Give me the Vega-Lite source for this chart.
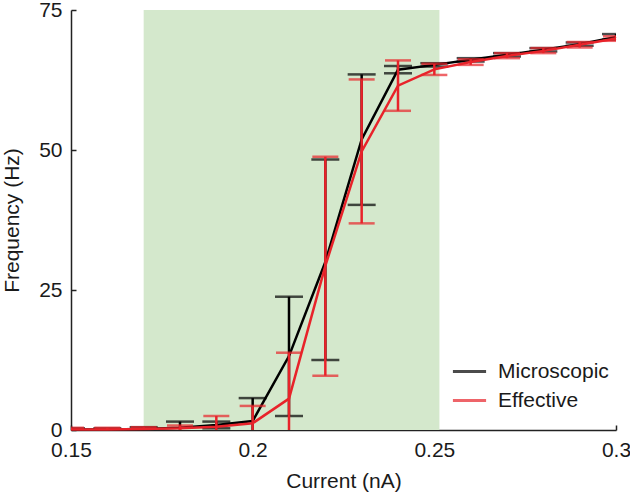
{
  "$schema": "https://vega.github.io/schema/vega-lite/v6.json",
  "width": 545,
  "height": 420,
  "autosize": "none",
  "padding": {"left": 71, "top": 10, "right": 14, "bottom": 72},
  "config": {
    "view": {"stroke": null},
    "font": "Liberation Sans",
    "axis": {
      "grid": false,
      "domainColor": "#222222",
      "domainWidth": 1.5,
      "tickColor": "#222222",
      "tickWidth": 1.5,
      "tickSize": -5,
      "labelFlush": false,
      "labelFontSize": 21,
      "labelColor": "#1a1a1a",
      "titleFontSize": 21,
      "titleFontWeight": "normal",
      "titleColor": "#1a1a1a"
    },
    "legend": {
      "labelFontSize": 21,
      "labelColor": "#1a1a1a",
      "symbolType": "stroke",
      "symbolStrokeWidth": 3,
      "symbolSize": 1100,
      "labelOffset": 10,
      "rowPadding": -7
    }
  },
  "datasets": {
    "band": [{"x0": 0.17, "x1": 0.2514, "y0": 0, "y1": 75}],
    "curves": [
      {"current": 0.15, "rate": 0.1, "lo": -0.1, "hi": 0.3, "model": "Microscopic"},
      {"current": 0.16, "rate": 0.1, "lo": -0.1, "hi": 0.3, "model": "Microscopic"},
      {"current": 0.17, "rate": 0.2, "lo": -0.1, "hi": 0.5, "model": "Microscopic"},
      {"current": 0.18, "rate": 0.4, "lo": -0.7, "hi": 1.5, "model": "Microscopic"},
      {"current": 0.19, "rate": 0.9, "lo": 0.3, "hi": 1.5, "model": "Microscopic"},
      {"current": 0.2, "rate": 1.6, "lo": -2.5, "hi": 5.7, "model": "Microscopic"},
      {"current": 0.21, "rate": 13.2, "lo": 2.5, "hi": 23.8, "model": "Microscopic"},
      {"current": 0.22, "rate": 30.0, "lo": 12.5, "hi": 48.3, "model": "Microscopic"},
      {"current": 0.23, "rate": 51.9, "lo": 40.2, "hi": 63.5, "model": "Microscopic"},
      {"current": 0.24, "rate": 64.35, "lo": 63.7, "hi": 65.0, "model": "Microscopic"},
      {"current": 0.25, "rate": 65.2, "lo": 64.9, "hi": 65.5, "model": "Microscopic"},
      {"current": 0.26, "rate": 66.1, "lo": 65.8, "hi": 66.4, "model": "Microscopic"},
      {"current": 0.27, "rate": 67.0, "lo": 66.7, "hi": 67.3, "model": "Microscopic"},
      {"current": 0.28, "rate": 67.9, "lo": 67.6, "hi": 68.2, "model": "Microscopic"},
      {"current": 0.29, "rate": 68.9, "lo": 68.6, "hi": 69.2, "model": "Microscopic"},
      {"current": 0.3, "rate": 70.2, "lo": 69.7, "hi": 70.7, "model": "Microscopic"},
      {"current": 0.15, "rate": 0.1, "lo": -0.2, "hi": 0.4, "model": "Effective"},
      {"current": 0.16, "rate": 0.1, "lo": -0.2, "hi": 0.4, "model": "Effective"},
      {"current": 0.17, "rate": 0.2, "lo": -0.2, "hi": 0.5, "model": "Effective"},
      {"current": 0.18, "rate": 0.3, "lo": -0.3, "hi": 0.8, "model": "Effective"},
      {"current": 0.19, "rate": 0.6, "lo": -1.3, "hi": 2.5, "model": "Effective"},
      {"current": 0.2, "rate": 1.2, "lo": -1.9, "hi": 4.3, "model": "Effective"},
      {"current": 0.21, "rate": 5.6, "lo": -2.6, "hi": 13.8, "model": "Effective"},
      {"current": 0.22, "rate": 29.3, "lo": 9.7, "hi": 48.8, "model": "Effective"},
      {"current": 0.23, "rate": 49.75, "lo": 36.9, "hi": 62.6, "model": "Effective"},
      {"current": 0.24, "rate": 61.5, "lo": 57.0, "hi": 66.0, "model": "Effective"},
      {"current": 0.25, "rate": 64.4, "lo": 63.4, "hi": 65.4, "model": "Effective"},
      {"current": 0.26, "rate": 65.7, "lo": 65.2, "hi": 66.2, "model": "Effective"},
      {"current": 0.27, "rate": 66.8, "lo": 66.4, "hi": 67.3, "model": "Effective"},
      {"current": 0.28, "rate": 67.7, "lo": 67.3, "hi": 68.2, "model": "Effective"},
      {"current": 0.29, "rate": 68.8, "lo": 68.3, "hi": 69.3, "model": "Effective"},
      {"current": 0.3, "rate": 69.9, "lo": 69.5, "hi": 70.3, "model": "Effective"}
    ]
  },
  "layer": [
    {
      "data": {"name": "band"},
      "mark": {"type": "rect", "color": "#d4e8cc", "clip": true},
      "encoding": {
        "x": {"field": "x0", "type": "quantitative", "scale": {"domain": [0.15, 0.3], "nice": false, "zero": false},
              "axis": {"title": "Current (nA)", "values": [0.15, 0.2, 0.25, 0.3], "format": ".2~f", "labelPadding": 14, "titlePadding": 10}},
        "x2": {"field": "x1"},
        "y": {"field": "y0", "type": "quantitative", "scale": {"domain": [0, 75], "nice": false},
              "axis": {"title": "Frequency (Hz)", "values": [0, 25, 50, 75], "labelPadding": 14, "titlePadding": 16}},
        "y2": {"field": "y1"}
      }
    },
    {
      "data": {"name": "curves"},
      "transform": [{"filter": "datum.model === 'Microscopic'"}],
      "layer": [
        {"mark": {"type": "rule", "strokeWidth": 2.5, "clip": true},
         "encoding": {"x": {"field": "current", "type": "quantitative"}, "y": {"field": "lo", "type": "quantitative"}, "y2": {"field": "hi"},
                      "color": {"field": "model", "type": "nominal"}}},
        {"mark": {"type": "tick", "orient": "horizontal", "size": 28, "thickness": 2.5, "clip": true},
         "encoding": {"x": {"field": "current", "type": "quantitative"}, "y": {"field": "lo", "type": "quantitative"},
                      "color": {"field": "model", "type": "nominal"}}},
        {"mark": {"type": "tick", "orient": "horizontal", "size": 28, "thickness": 2.5, "clip": true},
         "encoding": {"x": {"field": "current", "type": "quantitative"}, "y": {"field": "hi", "type": "quantitative"},
                      "color": {"field": "model", "type": "nominal"}}},
        {"mark": {"type": "line", "strokeWidth": 2.5},
         "encoding": {"x": {"field": "current", "type": "quantitative"}, "y": {"field": "rate", "type": "quantitative"},
                      "color": {"field": "model", "type": "nominal"}}}
      ]
    },
    {
      "data": {"name": "curves"},
      "transform": [{"filter": "datum.model === 'Effective'"}],
      "layer": [
        {"mark": {"type": "rule", "strokeWidth": 2.5, "clip": true},
         "encoding": {"x": {"field": "current", "type": "quantitative"}, "y": {"field": "lo", "type": "quantitative"}, "y2": {"field": "hi"},
                      "color": {"field": "model", "type": "nominal"}}},
        {"mark": {"type": "tick", "orient": "horizontal", "size": 26, "thickness": 2.5, "clip": true},
         "encoding": {"x": {"field": "current", "type": "quantitative"}, "y": {"field": "lo", "type": "quantitative"},
                      "color": {"field": "model", "type": "nominal"}}},
        {"mark": {"type": "tick", "orient": "horizontal", "size": 26, "thickness": 2.5, "clip": true},
         "encoding": {"x": {"field": "current", "type": "quantitative"}, "y": {"field": "hi", "type": "quantitative"},
                      "color": {"field": "model", "type": "nominal"}}},
        {"mark": {"type": "line", "strokeWidth": 2.5},
         "encoding": {"x": {"field": "current", "type": "quantitative"}, "y": {"field": "rate", "type": "quantitative"},
                      "color": {"field": "model", "type": "nominal",
                                "scale": {"domain": ["Microscopic", "Effective"], "range": ["#000000", "#e8232a"]},
                                "legend": {"title": null, "orient": "none", "legendX": 380, "legendY": 343}}}}
      ]
    }
  ]
}
